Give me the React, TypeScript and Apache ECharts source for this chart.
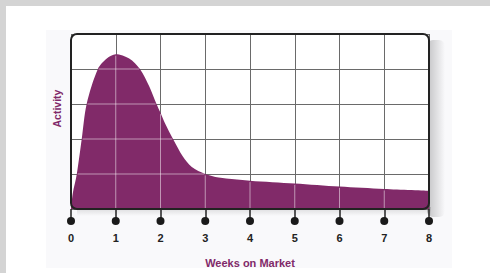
import React, { useEffect, useRef } from "react";
import * as echarts from "echarts";

const weeks = [0, 0.04, 0.13, 0.24, 0.35, 0.6, 0.8, 1, 1.3, 1.54, 1.75, 1.91, 2, 2.1, 2.28, 2.5, 2.7, 3, 3.3, 4, 5, 6, 7, 8];
const activity = [0, 0.45, 1, 2, 3, 4, 4.3, 4.42, 4.3, 4, 3.5, 3, 2.75, 2.45, 2, 1.5, 1.2, 1.0, 0.9, 0.81, 0.73, 0.64, 0.57, 0.52];
const xTicks = [0, 1, 2, 3, 4, 5, 6, 7, 8];
const yLevels = [1, 2, 3, 4];

const PURPLE = "#812a69";
const FONT = "'Liberation Sans', Arial, sans-serif";

function interp(x: number): number {
  for (let i = 0; i < weeks.length - 1; i++) {
    if (x >= weeks[i] && x <= weeks[i + 1]) {
      const t = (x - weeks[i]) / (weeks[i + 1] - weeks[i]);
      return activity[i] + t * (activity[i + 1] - activity[i]);
    }
  }
  return 0;
}

function crossings(level: number): number[] {
  const xs: number[] = [];
  for (let i = 0; i < weeks.length - 1; i++) {
    const a = activity[i] - level;
    const b = activity[i + 1] - level;
    if ((a < 0 && b >= 0) || (a >= 0 && b < 0)) {
      const t = a / (a - b);
      xs.push(weeks[i] + t * (weeks[i + 1] - weeks[i]));
    }
  }
  return xs;
}

export default function App() {
  const ref = useRef<HTMLDivElement>(null);
  useEffect(() => {
    document.body.style.margin = "0";
    const chart = echarts.init(ref.current!, null, { renderer: "svg" });
    const overlayStroke = "rgba(255,255,255,0.5)";
    const option: any = {
      animation: false,
      backgroundColor: "#d4d4d4",
      grid: { left: 71, right: 61, top: 34, bottom: 60 },
      xAxis: {
        type: "value",
        min: 0,
        max: 8,
        interval: 1,
        axisLine: { show: false },
        axisTick: { show: true, length: 12, lineStyle: { color: "#222", width: 1.5 } },
        splitLine: { show: true, lineStyle: { color: "#6a6a6a", width: 1 } },
        axisLabel: {
          margin: 8,
          formatter: (v: number) => "{dot| }\n{v|" + v + "}",
          rich: {
            dot: { width: 8, height: 8, lineHeight: 8, backgroundColor: "#1a1a1a", borderRadius: 4 },
            v: { fontFamily: FONT, fontWeight: "bold", fontSize: 11, color: "#222", lineHeight: 26 },
          },
        },
        name: "Weeks on Market",
        nameLocation: "middle",
        nameGap: 48,
        nameTextStyle: { fontFamily: FONT, fontWeight: "bold", fontSize: 11, color: PURPLE },
      },
      yAxis: {
        type: "value",
        min: 0,
        max: 5,
        interval: 1,
        axisLine: { show: false },
        axisTick: { show: false },
        axisLabel: { show: false },
        splitLine: { show: true, lineStyle: { color: "#6a6a6a", width: 1 } },
        name: "Activity",
        nameLocation: "middle",
        nameGap: 9,
        nameRotate: 90,
        nameTextStyle: { fontFamily: FONT, fontWeight: "bold", fontSize: 10.5, color: PURPLE, padding: [0, 0, 0, 26] },
      },
      series: [
        {
          type: "line",
          data: weeks.map((w, i) => [w, activity[i]]),
          smooth: 0.3,
          symbol: "none",
          lineStyle: { width: 0 },
          areaStyle: { color: PURPLE, opacity: 1 },
          z: 2,
        },
        {
          type: "custom",
          silent: true,
          z: 3,
          data: [[0, 0]],
          renderItem: (_p: any, api: any) => {
            const children: any[] = [];
            xTicks.slice(1, -1).forEach((k) => {
              const p0 = api.coord([k, 0]);
              const p1 = api.coord([k, Math.max(0, interp(k) - 0.04)]);
              children.push({
                type: "line",
                shape: { x1: p0[0], y1: p0[1], x2: p1[0], y2: p1[1] },
                style: { stroke: overlayStroke, lineWidth: 1 },
              });
            });
            yLevels.forEach((lv) => {
              const xs = crossings(lv);
              for (let j = 0; j + 1 < xs.length; j += 2) {
                const a = api.coord([xs[j] + 0.02, lv]);
                const b = api.coord([xs[j + 1] - 0.02, lv]);
                children.push({
                  type: "line",
                  shape: { x1: a[0], y1: a[1], x2: b[0], y2: b[1] },
                  style: { stroke: overlayStroke, lineWidth: 1 },
                });
              }
            });
            return { type: "group", children };
          },
        },
      ],
    };
    chart.setOption(option);
    const tl = chart.convertToPixel({ gridIndex: 0 }, [0, 5]) as number[];
    const br = chart.convertToPixel({ gridIndex: 0 }, [8, 0]) as number[];
    const w = br[0] - tl[0];
    const h = br[1] - tl[1];
    chart.setOption({
      graphic: [
        { type: "rect", z: -30, silent: true, shape: { x: 6, y: 6, width: 484, height: 267 }, style: { fill: "#ffffff" } },
        { type: "rect", z: -29, silent: true, shape: { x: 46, y: 30, width: 406, height: 238 }, style: { fill: "#f9f9fb" } },
        {
          type: "rect",
          z: -28,
          silent: true,
          shape: { x: br[0] - 2, y: tl[1] + 6, width: 18, height: h + 2, r: 6 },
          style: {
            fill: new echarts.graphic.LinearGradient(0, 0, 1, 0, [
              { offset: 0, color: "rgba(0,0,0,0.22)" },
              { offset: 1, color: "rgba(0,0,0,0)" },
            ]),
          },
        },
        {
          type: "rect",
          z: -28,
          silent: true,
          shape: { x: tl[0] + 6, y: br[1] - 2, width: w - 4, height: 9 },
          style: {
            fill: new echarts.graphic.LinearGradient(0, 0, 0, 1, [
              { offset: 0, color: "rgba(0,0,0,0.14)" },
              { offset: 1, color: "rgba(0,0,0,0)" },
            ]),
          },
        },
        {
          type: "rect",
          z: -27,
          silent: true,
          shape: { x: tl[0], y: tl[1], width: w, height: h, r: 6 },
          style: { fill: "#ffffff" },
        },
        {
          type: "rect",
          z: 50,
          silent: true,
          shape: { x: tl[0], y: tl[1], width: w, height: h, r: 6 },
          style: { fill: "none", stroke: "#222", lineWidth: 2 },
        },
      ],
    });
    return () => chart.dispose();
  }, []);
  return <div ref={ref} style={{ width: 490, height: 273 }} />;
}
